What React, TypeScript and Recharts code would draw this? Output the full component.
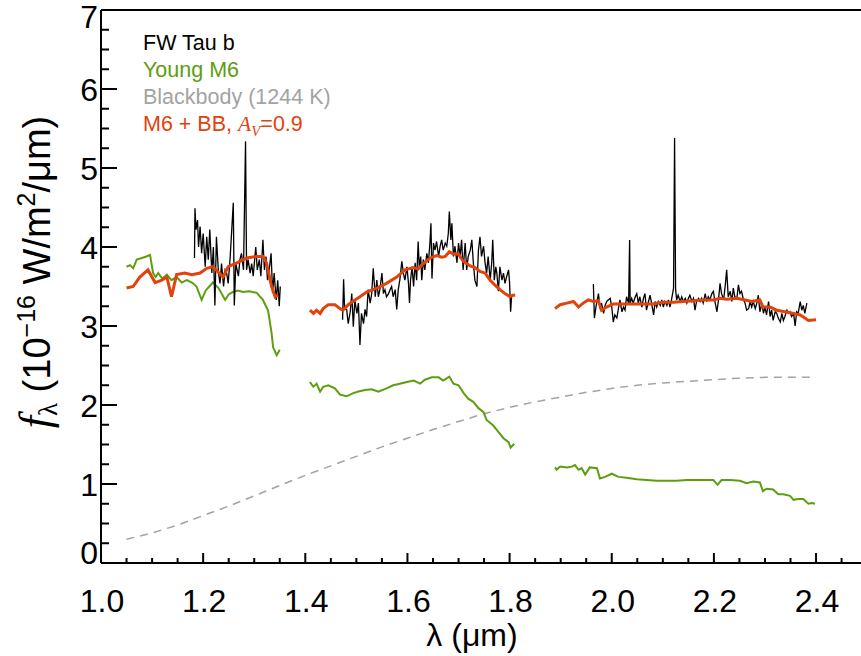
import { Line, LineChart, XAxis, YAxis } from 'recharts'

const FONT = '"Liberation Sans", Arial, Helvetica, sans-serif'
const SERIF = '"Liberation Serif", "Times New Roman", serif'

const BLACK = '#000000'
const GREEN = '#5c9e10'
const GREY = '#a3a3a3'
const RED = '#e2420c'

// axis ticks
const xMajorTicks = [1.0, 1.2, 1.4, 1.6, 1.8, 2.0, 2.2, 2.4]
const xAllTicks = [
  1.0, 1.05, 1.1, 1.15, 1.2, 1.25, 1.3, 1.35, 1.4, 1.45, 1.5, 1.55, 1.6, 1.65, 1.7,
  1.75, 1.8, 1.85, 1.9, 1.95, 2.0, 2.05, 2.1, 2.15, 2.2, 2.25, 2.3, 2.35, 2.4, 2.45,
]
const yMajorTicks = [0, 1, 2, 3, 4, 5, 6, 7]
const yAllTicks = [
  0, 0.25, 0.5, 0.75, 1, 1.25, 1.5, 1.75, 2, 2.25, 2.5, 2.75, 3, 3.25, 3.5, 3.75, 4,
  4.25, 4.5, 4.75, 5, 5.25, 5.5, 5.75, 6, 6.25, 6.5, 6.75, 7,
]

// FW Tau b spectrum, three bands  [wavelength um, flux]
const fwTauJ: [number, number][] = [
  [1.183, 3.86], [1.184, 4.49], [1.186, 4.22], [1.189, 4.34], [1.191, 4.0], [1.194, 4.26],
  [1.197, 3.92], [1.2, 4.17], [1.204, 3.75], [1.207, 4.13], [1.21, 3.84], [1.213, 4.22],
  [1.217, 3.67], [1.22, 4.0], [1.223, 3.26], [1.226, 4.13], [1.23, 3.67], [1.233, 3.54],
  [1.236, 3.79], [1.24, 3.5], [1.243, 3.71], [1.246, 3.67], [1.249, 3.54], [1.253, 3.88],
  [1.256, 4.22], [1.259, 4.56], [1.261, 3.26], [1.264, 3.79], [1.269, 3.63], [1.272, 3.84],
  [1.275, 3.92], [1.279, 3.71], [1.283, 5.34], [1.285, 3.71], [1.288, 3.84], [1.292, 3.67],
  [1.295, 3.79], [1.298, 3.63], [1.303, 4.0], [1.306, 3.71], [1.31, 3.84], [1.313, 3.63],
  [1.317, 4.09], [1.32, 3.71], [1.323, 3.88], [1.326, 3.58], [1.33, 3.75], [1.333, 3.92],
  [1.336, 3.42], [1.339, 3.67], [1.343, 3.33], [1.346, 3.58], [1.349, 3.25], [1.351, 3.5],
]
const fwTauH: [number, number][] = [
  [1.473, 3.08], [1.475, 3.59], [1.477, 3.21], [1.481, 3.21], [1.484, 3.03], [1.488, 3.18],
  [1.491, 3.41], [1.494, 2.99], [1.497, 3.33], [1.501, 3.16], [1.504, 3.29], [1.507, 2.76],
  [1.51, 3.16], [1.514, 3.03], [1.517, 3.21], [1.52, 3.12], [1.523, 3.46], [1.527, 3.29],
  [1.53, 3.41], [1.533, 3.73], [1.537, 3.37], [1.54, 3.58], [1.543, 3.37], [1.546, 3.46],
  [1.55, 3.67], [1.553, 3.41], [1.556, 3.46], [1.559, 3.37], [1.563, 3.41], [1.566, 3.46],
  [1.569, 3.5], [1.572, 3.37], [1.576, 3.46], [1.579, 3.21], [1.582, 3.46], [1.585, 3.58],
  [1.589, 3.82], [1.592, 3.67], [1.595, 3.58], [1.599, 3.75], [1.602, 3.54], [1.604, 3.29],
  [1.606, 3.58], [1.609, 3.75], [1.612, 3.5], [1.615, 3.8], [1.618, 3.58], [1.621, 4.07],
  [1.623, 3.75], [1.626, 3.88], [1.628, 3.58], [1.631, 3.84], [1.634, 3.71], [1.638, 3.92],
  [1.641, 3.8], [1.644, 4.05], [1.646, 4.3], [1.648, 3.6], [1.651, 4.05], [1.654, 3.96],
  [1.657, 4.07], [1.661, 3.88], [1.664, 4.01], [1.667, 4.09], [1.67, 3.96], [1.674, 4.05],
  [1.677, 4.01], [1.68, 4.17], [1.682, 4.45], [1.685, 4.09], [1.687, 4.3], [1.69, 3.88],
  [1.693, 4.01], [1.697, 3.8], [1.7, 4.05], [1.703, 3.88], [1.706, 4.09], [1.709, 3.71],
  [1.713, 4.05], [1.716, 3.71], [1.719, 3.88], [1.723, 3.96], [1.726, 4.09], [1.729, 3.8],
  [1.732, 3.58], [1.736, 3.5], [1.739, 3.96], [1.742, 4.13], [1.745, 3.88], [1.749, 4.01],
  [1.752, 3.8], [1.755, 3.67], [1.758, 3.88], [1.762, 3.58], [1.765, 3.8], [1.767, 4.09],
  [1.77, 3.58], [1.773, 3.75], [1.775, 3.67], [1.778, 3.44], [1.781, 3.75], [1.785, 3.58],
  [1.788, 3.67], [1.791, 3.54], [1.794, 3.62], [1.798, 3.71], [1.8, 3.54], [1.802, 3.18],
  [1.804, 3.39],
]
const fwTauK: [number, number][] = [
  [1.964, 3.53], [1.966, 3.1], [1.969, 3.24], [1.974, 3.41], [1.977, 3.22], [1.98, 3.29],
  [1.984, 3.16], [1.987, 3.26], [1.99, 3.31], [1.993, 3.33], [1.997, 3.35], [2.0, 3.24],
  [2.003, 3.05], [2.006, 3.14], [2.01, 3.1], [2.013, 3.22], [2.016, 3.33], [2.02, 3.18],
  [2.023, 3.24], [2.026, 3.2], [2.029, 3.37], [2.033, 3.29], [2.035, 4.09], [2.036, 3.29],
  [2.039, 3.35], [2.042, 3.29], [2.046, 3.37], [2.049, 3.41], [2.052, 3.29], [2.055, 3.37],
  [2.059, 3.24], [2.062, 3.35], [2.065, 3.41], [2.068, 3.2], [2.072, 3.31], [2.075, 3.39],
  [2.078, 3.29], [2.082, 3.14], [2.085, 3.31], [2.088, 3.24], [2.091, 3.31], [2.095, 3.26],
  [2.098, 3.33], [2.101, 3.24], [2.104, 3.31], [2.108, 3.26], [2.111, 3.33], [2.114, 3.24],
  [2.117, 3.33], [2.121, 3.48], [2.123, 5.38], [2.125, 3.46], [2.127, 3.33], [2.13, 3.39],
  [2.134, 3.31], [2.137, 3.37], [2.14, 3.31], [2.144, 3.35], [2.147, 3.29], [2.15, 3.35],
  [2.153, 3.39], [2.157, 3.31], [2.16, 3.35], [2.163, 3.2], [2.166, 3.31], [2.17, 3.35],
  [2.173, 3.31], [2.176, 3.35], [2.179, 3.29], [2.183, 3.41], [2.186, 3.31], [2.189, 3.37],
  [2.192, 3.33], [2.196, 3.41], [2.199, 3.44], [2.202, 3.31], [2.206, 3.18], [2.209, 3.33],
  [2.212, 3.54], [2.215, 3.41], [2.219, 3.33], [2.222, 3.5], [2.225, 3.71], [2.228, 3.37],
  [2.232, 3.44], [2.235, 3.31], [2.238, 3.48], [2.241, 3.37], [2.245, 3.35], [2.248, 3.52],
  [2.251, 3.41], [2.254, 3.44], [2.258, 3.33], [2.261, 3.29], [2.264, 3.2], [2.268, 3.22],
  [2.271, 3.31], [2.274, 3.24], [2.277, 3.31], [2.281, 3.22], [2.284, 3.29], [2.287, 3.39],
  [2.29, 3.18], [2.294, 3.29], [2.297, 3.16], [2.3, 3.24], [2.303, 3.14], [2.307, 3.31],
  [2.31, 3.12], [2.313, 3.2], [2.316, 3.07], [2.32, 3.18], [2.323, 3.16], [2.326, 3.1],
  [2.33, 3.05], [2.333, 3.16], [2.336, 3.07], [2.339, 3.12], [2.343, 3.2], [2.346, 3.16],
  [2.349, 3.18], [2.352, 3.12], [2.356, 3.16], [2.359, 3.0], [2.362, 3.18], [2.365, 3.16],
  [2.369, 3.31], [2.372, 3.2], [2.375, 3.26], [2.378, 3.16], [2.382, 3.29],
]

// young M6 template
const m6J: [number, number][] = [
  [1.05, 3.75], [1.057, 3.77], [1.063, 3.73], [1.07, 3.84], [1.08, 3.86], [1.089, 3.88],
  [1.096, 3.9], [1.102, 3.67], [1.107, 3.62], [1.112, 3.67], [1.12, 3.6], [1.129, 3.65],
  [1.138, 3.58], [1.148, 3.62], [1.158, 3.55], [1.168, 3.58], [1.178, 3.55], [1.187, 3.5],
  [1.197, 3.33], [1.205, 3.45], [1.212, 3.5], [1.219, 3.55], [1.23, 3.48], [1.243, 3.33],
  [1.25, 3.4], [1.258, 3.43], [1.268, 3.45], [1.278, 3.43], [1.29, 3.44], [1.305, 3.42],
  [1.317, 3.33], [1.327, 3.2], [1.334, 2.91], [1.337, 2.73], [1.344, 2.63], [1.35, 2.7],
]
const m6H: [number, number][] = [
  [1.409, 2.29], [1.416, 2.23], [1.422, 2.27], [1.429, 2.17], [1.435, 2.23], [1.445, 2.25],
  [1.458, 2.21], [1.468, 2.13], [1.481, 2.11], [1.494, 2.15], [1.504, 2.17], [1.517, 2.19],
  [1.53, 2.2], [1.543, 2.17], [1.559, 2.21], [1.572, 2.25], [1.585, 2.27], [1.599, 2.29],
  [1.612, 2.31], [1.625, 2.27], [1.634, 2.32], [1.648, 2.35], [1.661, 2.35], [1.67, 2.31],
  [1.682, 2.36], [1.69, 2.27], [1.7, 2.25], [1.71, 2.15], [1.719, 2.08], [1.729, 2.04],
  [1.739, 1.96], [1.749, 1.91], [1.755, 1.81], [1.768, 1.74], [1.778, 1.66], [1.788, 1.58],
  [1.798, 1.53], [1.802, 1.46], [1.809, 1.51],
]
const m6K: [number, number][] = [
  [1.889, 1.21], [1.892, 1.18], [1.899, 1.22], [1.912, 1.21], [1.922, 1.22], [1.928, 1.24],
  [1.935, 1.18], [1.941, 1.2], [1.948, 1.12], [1.957, 1.21], [1.971, 1.2], [1.977, 1.07],
  [1.987, 1.09], [2.0, 1.13], [2.013, 1.09], [2.029, 1.08], [2.049, 1.06], [2.068, 1.05],
  [2.088, 1.04], [2.108, 1.04], [2.127, 1.04], [2.147, 1.05], [2.166, 1.05], [2.186, 1.05],
  [2.199, 1.05], [2.207, 0.99], [2.215, 1.05], [2.232, 1.05], [2.251, 1.04], [2.264, 1.01],
  [2.277, 1.03], [2.29, 1.02], [2.296, 0.91], [2.303, 0.94], [2.316, 0.93], [2.326, 0.87],
  [2.336, 0.87], [2.349, 0.85], [2.356, 0.8], [2.365, 0.81], [2.375, 0.81], [2.385, 0.75],
  [2.392, 0.76], [2.398, 0.75],
]

// blackbody, 1244 K
const blackbody: [number, number][] = [
  [1.05, 0.3], [1.1, 0.38], [1.15, 0.48], [1.2, 0.6], [1.25, 0.72], [1.3, 0.85],
  [1.35, 0.98], [1.4, 1.11], [1.45, 1.23], [1.5, 1.35], [1.55, 1.47], [1.6, 1.58],
  [1.65, 1.69], [1.7, 1.79], [1.75, 1.89], [1.8, 1.97], [1.85, 2.04], [1.9, 2.1],
  [1.95, 2.16], [2.0, 2.21], [2.05, 2.25], [2.1, 2.28], [2.15, 2.3], [2.2, 2.32],
  [2.25, 2.34], [2.3, 2.35], [2.35, 2.35], [2.4, 2.35],
]

// M6 + BB model
const modelJ: [number, number][] = [
  [1.05, 3.48], [1.063, 3.5], [1.076, 3.62], [1.092, 3.71], [1.106, 3.55], [1.119, 3.58],
  [1.129, 3.62], [1.138, 3.37], [1.148, 3.65], [1.164, 3.67], [1.178, 3.65], [1.194, 3.67],
  [1.207, 3.73], [1.219, 3.75], [1.239, 3.62], [1.249, 3.75], [1.266, 3.8], [1.285, 3.86],
  [1.305, 3.88], [1.317, 3.88], [1.324, 3.8], [1.334, 3.5], [1.341, 3.37], [1.347, 3.39],
]
const modelH: [number, number][] = [
  [1.409, 3.2], [1.416, 3.16], [1.422, 3.2], [1.429, 3.16], [1.435, 3.22], [1.445, 3.27],
  [1.458, 3.27], [1.468, 3.22], [1.474, 3.2], [1.484, 3.27], [1.497, 3.33], [1.507, 3.37],
  [1.52, 3.43], [1.54, 3.48], [1.559, 3.54], [1.579, 3.62], [1.595, 3.71], [1.612, 3.74],
  [1.621, 3.72], [1.631, 3.79], [1.644, 3.86], [1.657, 3.89], [1.667, 3.87], [1.674, 3.88],
  [1.682, 3.94], [1.69, 3.91], [1.7, 3.91], [1.709, 3.82], [1.723, 3.76], [1.732, 3.74],
  [1.742, 3.69], [1.752, 3.67], [1.762, 3.58], [1.771, 3.52], [1.781, 3.46], [1.791, 3.41],
  [1.801, 3.37], [1.806, 3.39], [1.811, 3.39],
]
const modelK: [number, number][] = [
  [1.889, 3.22], [1.899, 3.27], [1.912, 3.29], [1.925, 3.31], [1.935, 3.24], [1.944, 3.29],
  [1.954, 3.33], [1.964, 3.31], [1.974, 3.32], [1.98, 3.2], [1.99, 3.24], [2.003, 3.28],
  [2.023, 3.28], [2.042, 3.28], [2.062, 3.28], [2.081, 3.28], [2.101, 3.3], [2.121, 3.3],
  [2.14, 3.31], [2.16, 3.32], [2.179, 3.33], [2.199, 3.33], [2.212, 3.35], [2.225, 3.34],
  [2.245, 3.35], [2.261, 3.33], [2.274, 3.31], [2.29, 3.33], [2.296, 3.24], [2.31, 3.24],
  [2.323, 3.2], [2.339, 3.18], [2.356, 3.16], [2.369, 3.14], [2.378, 3.1], [2.385, 3.07],
  [2.4, 3.08],
]

const pts = (arr: [number, number][]) => arr.map(([x, y]) => ({ x, y }))

const isMajorX = (v: number) => xMajorTicks.some((m) => Math.abs(m - v) < 1e-6)
const isMajorY = (v: number) => yMajorTicks.some((m) => Math.abs(m - v) < 1e-6)

function BottomTick({ x, y, payload }: any) {
  const v = payload.value
  const major = isMajorX(v)
  return (
    <g>
      <line x1={x} y1={y} x2={x} y2={y - (major ? 10 : 5)} stroke="#000" strokeWidth={2} />
      {major && (
        <text x={x + 1} y={y + 49} textAnchor="middle" fontSize={32} fontFamily={FONT} fill="#000">
          {v.toFixed(1)}
        </text>
      )}
    </g>
  )
}

function TopTick({ x, y, payload }: any) {
  const major = isMajorX(payload.value)
  return <line x1={x} y1={y} x2={x} y2={y + (major ? 10 : 5)} stroke="#000" strokeWidth={2} />
}

function LeftTick({ x, y, payload }: any) {
  const v = payload.value
  const major = isMajorY(v)
  const shift = v === 0 ? -11 : v === 7 ? 6 : 0
  return (
    <g>
      <line x1={x} y1={y} x2={x + (major ? 16 : 8)} y2={y} stroke="#000" strokeWidth={2} />
      {major && (
        <text x={x - 3} y={y + 11.5 + shift} textAnchor="end" fontSize={32} fontFamily={FONT} fill="#000">
          {v}
        </text>
      )}
    </g>
  )
}

function RightTick({ x, y }: any) {
  return <line x1={x} y1={y} x2={x - 3} y2={y} stroke="#000" strokeWidth={2} />
}

export default function App() {
  return (
    <div style={{ position: 'absolute', left: 0, top: 0, width: 861, height: 656, background: '#fff' }}>
      <LineChart width={861} height={656} margin={{ top: 0, right: 0, bottom: 0, left: 0 }}>
        <XAxis
          dataKey="x"
          type="number"
          domain={[1.0, 2.488]}
          allowDataOverflow
          ticks={xAllTicks}
          interval={0}
          height={93}
          tickSize={0}
          tickMargin={0}
          tickLine={false}
          axisLine={{ stroke: '#000', strokeWidth: 2 }}
          tick={<BottomTick />}
        />
        <XAxis
          xAxisId="top"
          orientation="top"
          type="number"
          domain={[1.0, 2.488]}
          allowDataOverflow
          ticks={xAllTicks}
          interval={0}
          height={10}
          tickSize={0}
          tickMargin={0}
          tickLine={false}
          axisLine={{ stroke: '#000', strokeWidth: 2 }}
          tick={<TopTick />}
        />
        <YAxis
          type="number"
          domain={[0, 7]}
          allowDataOverflow
          ticks={yAllTicks}
          interval={0}
          width={101}
          tickSize={0}
          tickMargin={0}
          tickLine={false}
          axisLine={{ stroke: '#000', strokeWidth: 2 }}
          tick={<LeftTick />}
        />
        <YAxis
          yAxisId="right"
          orientation="right"
          type="number"
          domain={[0, 7]}
          allowDataOverflow
          ticks={yAllTicks}
          interval={0}
          width={0}
          tickSize={0}
          tickMargin={0}
          tickLine={false}
          axisLine={false}
          tick={<RightTick />}
        />

        <Line data={pts(blackbody)} dataKey="y" type="linear" stroke={GREY} strokeWidth={1.5}
          strokeDasharray="8 6" dot={false} isAnimationActive={false} />

        <Line data={pts(m6J)} dataKey="y" type="linear" stroke={GREEN} strokeWidth={2} dot={false} isAnimationActive={false} />
        <Line data={pts(m6H)} dataKey="y" type="linear" stroke={GREEN} strokeWidth={2} dot={false} isAnimationActive={false} />
        <Line data={pts(m6K)} dataKey="y" type="linear" stroke={GREEN} strokeWidth={2} dot={false} isAnimationActive={false} />

        <Line data={pts(fwTauJ)} dataKey="y" type="linear" stroke={BLACK} strokeWidth={1.3} dot={false} isAnimationActive={false} />
        <Line data={pts(fwTauH)} dataKey="y" type="linear" stroke={BLACK} strokeWidth={1.3} dot={false} isAnimationActive={false} />
        <Line data={pts(fwTauK)} dataKey="y" type="linear" stroke={BLACK} strokeWidth={1.3} dot={false} isAnimationActive={false} />

        <Line data={pts(modelJ)} dataKey="y" type="linear" stroke={RED} strokeWidth={3} dot={false} isAnimationActive={false} />
        <Line data={pts(modelH)} dataKey="y" type="linear" stroke={RED} strokeWidth={3} dot={false} isAnimationActive={false} />
        <Line data={pts(modelK)} dataKey="y" type="linear" stroke={RED} strokeWidth={3} dot={false} isAnimationActive={false} />
      </LineChart>

      <svg width={861} height={656} style={{ position: 'absolute', left: 0, top: 0, pointerEvents: 'none' }}>
        <g fontFamily={FONT} fontSize={21.5}>
          <text x={143} y={50} fill={BLACK}>FW Tau b</text>
          <text x={143} y={77} fill={GREEN}>Young M6</text>
          <text x={143} y={104} fill={GREY}>Blackbody (1244 K)</text>
          <text x={143} y={131} fill={RED}>
            M6 + BB,{' '}
            <tspan fontFamily={SERIF} fontStyle="italic">A</tspan>
            <tspan fontFamily={SERIF} fontStyle="italic" fontSize={15} dy={5}>V</tspan>
            <tspan dy={-5}>=0.9</tspan>
          </text>
        </g>

        <text x={472} y={646} textAnchor="middle" fontSize={32} fontFamily={FONT} fill="#000">
          λ (μm)
        </text>

        <text transform="translate(50, 272) rotate(-90)" textAnchor="middle" fontSize={38} fontFamily={FONT} fill="#000">
          <tspan fontFamily={SERIF} fontStyle="italic" fontSize={44}>f</tspan>
          <tspan fontFamily={SERIF} fontSize={27} dy={7}>λ</tspan>
          <tspan dy={-7}> (10</tspan>
          <tspan fontSize={25} dy={-15}>−16</tspan>
          <tspan dy={15}> W/m</tspan>
          <tspan fontSize={25} dy={-15}>2</tspan>
          <tspan dy={15}>/μm)</tspan>
        </text>
      </svg>
    </div>
  )
}
